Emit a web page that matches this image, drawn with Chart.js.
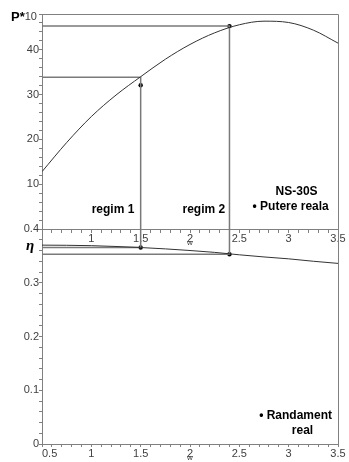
<!DOCTYPE html>
<html>
<head>
<meta charset="utf-8">
<script src="https://cdn.jsdelivr.net/npm/chart.js@4.4.0/dist/chart.umd.min.js"></script>
<style>
	html, body { margin: 0; padding: 0; background: #fff; }
	#wrap { width: 349px; height: 462px; }
</style>
</head>
<body>
<div id="wrap"><canvas id="myChart"></canvas></div>
<script>
// w values where the curves were read
var wGrid = [0.5, 0.75, 1, 1.25, 1.5, 1.75, 2, 2.25, 2.5, 2.75, 3, 3.25, 3.5];
// P*10 (top panel)
var putere = [12.8, 19.3, 25.1, 29.9, 34.0, 37.9, 41.2, 43.8, 45.6, 46.4, 46.1, 44.4, 41.5];
// eta (bottom panel)
var randament = [0.370, 0.3697, 0.369, 0.3675, 0.3655, 0.363, 0.360, 0.3565, 0.352, 0.348, 0.3445, 0.340, 0.336];

// the two working points (regim 1, regim 2)
var regimW = [1.5, 2.4];
var regimP = [33.9, 45.3];
var putereReala = [32.1, 45.3];
var randamentReal = [0.3655, 0.353];

// tick labels
var wTicks = [0.5, 1, 1.5, 2, 2.5, 3, 3.5];
var pTicks = [10, 20, 30, 40];
var etaTicks = [0, 0.1, 0.2, 0.3, 0.4];

var axisGray = '#808080';
var tickFont = { family: 'Liberation Sans', size: 11 };
var tickColor = '#404040';

function pts(xs, ys) {
	return xs.map(function(x, i) { return { x: x, y: ys[i] }; });
}
function findTick(list, v) {
	for (var i = 0; i < list.length; i++) {
		if (Math.abs(list[i] - v) < 1e-6) return i;
	}
	return -1;
}

var wMin = wTicks[0], wMax = wTicks[wTicks.length - 1];
var etaMax = etaTicks[etaTicks.length - 1];

var datasets = [
	{ data: pts(wGrid, putere), yAxisID: 'yP', borderColor: '#333', borderWidth: 1, pointRadius: 0, cubicInterpolationMode: 'monotone' },
	{ data: pts(wGrid, randament), yAxisID: 'yE', borderColor: '#333', borderWidth: 1, pointRadius: 0, cubicInterpolationMode: 'monotone' }
];

regimW.forEach(function(w, i) {
	datasets.push({
		data: [{ x: wMin, y: regimP[i] }, { x: w, y: regimP[i] }, { x: w, y: 0 }],
		yAxisID: 'yP', borderColor: '#7a7a7a', borderWidth: 1.5, pointRadius: 0, tension: 0
	});
	datasets.push({
		data: [{ x: w, y: etaMax }, { x: w, y: randamentReal[i] }, { x: wMin, y: randamentReal[i] }],
		yAxisID: 'yE', borderColor: '#7a7a7a', borderWidth: 1.5, pointRadius: 0, tension: 0
	});
});

datasets.push({ data: pts(regimW, putereReala), yAxisID: 'yP', showLine: false, pointRadius: 2.2, pointBackgroundColor: '#000', pointBorderWidth: 0 });
datasets.push({ data: pts(regimW, randamentReal), yAxisID: 'yE', showLine: false, pointRadius: 2.2, pointBackgroundColor: '#000', pointBorderWidth: 0 });

function xAxis(position, showFirst) {
	return {
		type: 'linear',
		position: position,
		min: wMin,
		max: wMax,
		grid: { drawOnChartArea: false, drawTicks: true, tickLength: 3, color: axisGray },
		border: { color: axisGray, width: 1 },
		title: { display: true, text: 'w', color: tickColor, font: { family: 'Liberation Sans', size: 8, lineHeight: 1 }, padding: 0 },
		ticks: {
			stepSize: 0.1, autoSkip: false, maxRotation: 0, padding: 0,
			color: tickColor, font: tickFont,
			callback: function(v) {
				var k = findTick(wTicks, v);
				if (k < 0) return '';
				if (k === 0) return showFirst ? '     ' + wTicks[0] : '';
				return String(wTicks[k]);
			}
		},
		afterFit: function(s) { s.height = 18; s.paddingLeft = 0; s.paddingRight = 0; }
	};
}

var frameAndNotes = {
	id: 'frameAndNotes',
	afterDraw: function(chart) {
		var ctx = chart.ctx, a = chart.chartArea;
		var sx = chart.scales.x, sP = chart.scales.yP, sE = chart.scales.yE;
		ctx.save();
		ctx.strokeStyle = axisGray;
		ctx.lineWidth = 1;
		ctx.beginPath();
		ctx.moveTo(a.left, Math.round(a.top) + 0.5);
		ctx.lineTo(Math.round(a.right) + 0.5, Math.round(a.top) + 0.5);
		ctx.lineTo(Math.round(a.right) + 0.5, a.bottom);
		ctx.stroke();

		ctx.fillStyle = '#000';
		ctx.textAlign = 'center';
		ctx.textBaseline = 'middle';
		ctx.font = 'bold 12px "Liberation Sans"';
		ctx.fillText('regim 1', sx.getPixelForValue(1.22), sP.getPixelForValue(4.4));
		ctx.fillText('regim 2', sx.getPixelForValue(2.14), sP.getPixelForValue(4.4));
		ctx.fillText('NS-30S', sx.getPixelForValue(3.08), sP.getPixelForValue(8.3));
		ctx.fillText('\u2022 Putere reala', sx.getPixelForValue(3.02), sP.getPixelForValue(5.0));
		ctx.fillText('\u2022 Randament', sx.getPixelForValue(3.07), sE.getPixelForValue(0.052));
		ctx.fillText('real', sx.getPixelForValue(3.14), sE.getPixelForValue(0.025));

		// axis names
		ctx.font = 'bold italic 15px "Liberation Serif"';
		ctx.fillText('\u03b7', a.left - 12, sE.getPixelForValue(0.368));
		ctx.textAlign = 'left';
		ctx.font = 'bold 13px "Liberation Sans"';
		ctx.fillText('P*', 11, a.top + 3);
		var wp = ctx.measureText('P*').width;
		ctx.font = '11px "Liberation Sans"';
		ctx.fillStyle = tickColor;
		ctx.fillText('10', 11 + wp, a.top + 3);
		ctx.restore();
	}
};

var ctx = document.getElementById('myChart').getContext('2d');
var myChart = new Chart(ctx, {
	type: 'line',
	data: { datasets: datasets },
	options: {
		responsive: true,
		maintainAspectRatio: false,
		animation: false,
		layout: { padding: { top: 14, right: 11, left: 0, bottom: 0 } },
		plugins: { legend: { display: false }, tooltip: { enabled: false } },
		scales: {
			x: xAxis('bottom', true),
			xm: xAxis({ yE: etaMax }, false),
			yE: {
				type: 'linear', position: 'left', stack: 'panels', stackWeight: 1,
				min: 0, max: etaMax,
				grid: { drawOnChartArea: false, tickLength: 3, color: axisGray },
				border: { color: axisGray, width: 1 },
				ticks: {
					stepSize: 0.02, autoSkip: false, padding: 0, color: tickColor, font: tickFont,
					callback: function(v) {
						var k = findTick(etaTicks, v);
						if (k < 0) return '';
						return etaTicks[k] === 0 ? '0' : etaTicks[k].toFixed(1);
					}
				},
				afterFit: function(s) { s.width = 42; s.paddingTop = 0; s.paddingBottom = 0; }
			},
			yP: {
				type: 'linear', position: 'left', stack: 'panels', stackWeight: 1,
				min: 0, max: 48,
				grid: { drawOnChartArea: false, tickLength: 3, color: axisGray },
				border: { color: axisGray, width: 1 },
				ticks: {
					stepSize: 2, autoSkip: false, padding: 0, color: tickColor, font: tickFont,
					callback: function(v) {
						var k = findTick(pTicks, v);
						return k < 0 ? '' : String(pTicks[k]);
					}
				},
				afterFit: function(s) { s.width = 42; s.paddingTop = 0; s.paddingBottom = 0; }
			}
		}
	},
	plugins: [frameAndNotes]
});
</script>
</body>
</html>
